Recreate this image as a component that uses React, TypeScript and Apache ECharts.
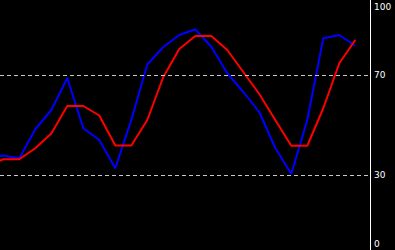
import React, { useEffect, useRef } from "react";
import * as echarts from "echarts";

const kValues = [37, 37.8, 36.7, 48.3, 56, 68.8, 48.7, 44, 32.7, 52, 74.2, 81.2, 86, 88.3, 81.3, 70.7, 63.2, 55.2, 40.8, 30.4, 52, 84.7, 86, 81.7];
const dValues = [33.6, 36.3, 36.3, 40.7, 46.6, 57.6, 57.6, 53.8, 41.8, 41.8, 52, 69.2, 80.4, 85.6, 85.6, 80, 71.2, 62.4, 52, 41.7, 41.7, 56.7, 74.7, 84];
const tickLabels = [0, 30, 70, 100];
const levelLines = [30, 70];

export default function App() {
  const ref = useRef<HTMLDivElement>(null);
  useEffect(() => {
    if (!ref.current) return;
    const chart = echarts.init(ref.current, undefined, { renderer: "svg" });
    const toPairs = (arr: number[]) => arr.map((v, i) => [i, v]);
    chart.setOption({
      animation: false,
      backgroundColor: "#000000",
      grid: { left: 0, right: 25, top: 0, bottom: 0, containLabel: false },
      xAxis: {
        type: "value",
        min: 0.794,
        max: 23.92,
        show: false,
      },
      yAxis: {
        type: "value",
        position: "right",
        min: 0,
        max: 100,
        interval: 10,
        axisLine: { show: true, lineStyle: { color: "#ffffff", width: 1 } },
        axisTick: { show: false },
        splitLine: { show: false },
        axisLabel: {
          show: true,
          color: "#ffffff",
          fontSize: 9,
          lineHeight: 13,
          fontFamily: "DejaVu Sans",
          margin: 4,
          verticalAlignMinLabel: "bottom",
          verticalAlignMaxLabel: "top",
          formatter: (v: number) => (tickLabels.includes(Math.round(v)) ? String(Math.round(v)) : ""),
        },
      },
      series: [
        {
          type: "line",
          data: toPairs(kValues),
          showSymbol: false,
          symbol: "none",
          lineStyle: { color: "#0000ff", width: 2 },
          itemStyle: { color: "#0000ff" },
          clip: true,
          z: 2,
        },
        {
          type: "line",
          data: toPairs(dValues),
          showSymbol: false,
          symbol: "none",
          lineStyle: { color: "#ff0000", width: 2 },
          itemStyle: { color: "#ff0000" },
          clip: true,
          z: 3,
          markLine: {
            silent: true,
            symbol: "none",
            label: { show: false },
            lineStyle: { color: "#c8c8c8", type: [4, 3], width: 1 },
            data: levelLines.map((y) => ({ yAxis: y })),
          },
        },
      ],
    });
    return () => chart.dispose();
  }, []);
  return (
    <div
      ref={ref}
      style={{ position: "fixed", left: 0, top: 0, width: 395, height: 250, background: "#000" }}
    />
  );
}
